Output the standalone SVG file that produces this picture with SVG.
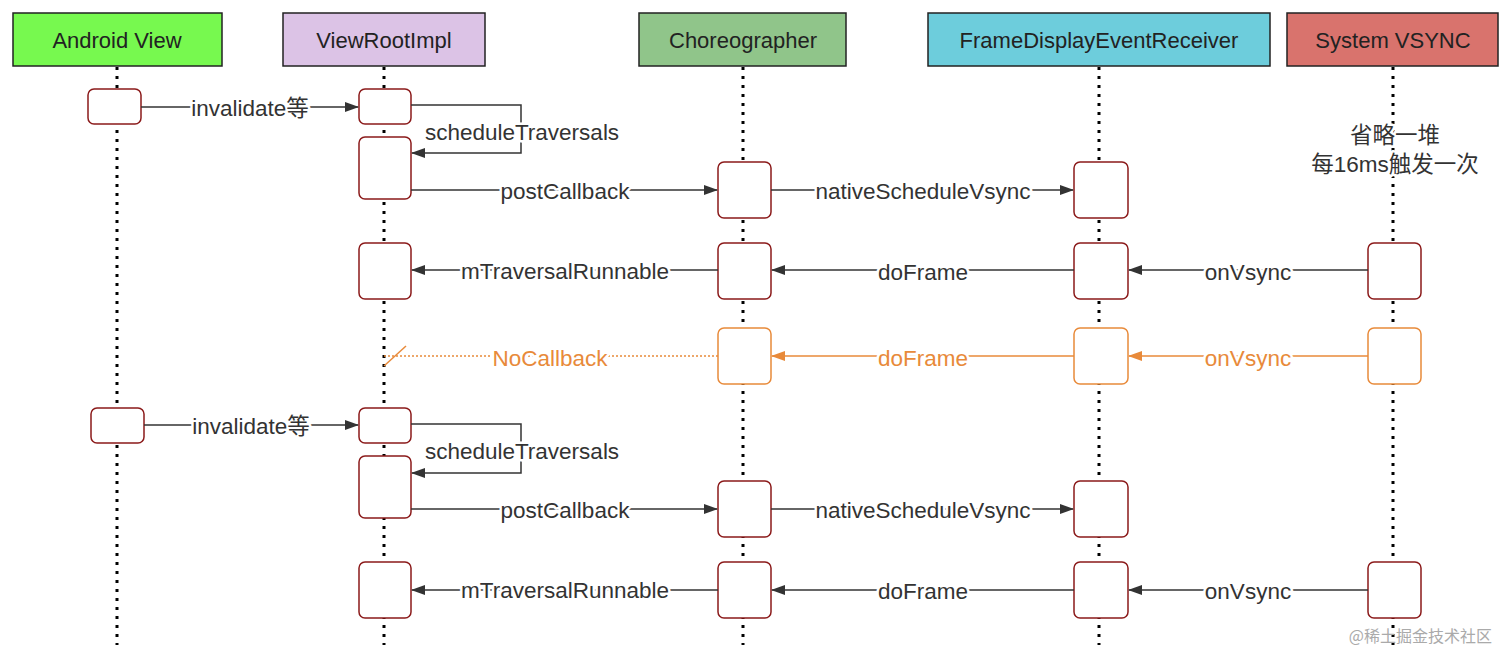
<svg xmlns="http://www.w3.org/2000/svg" width="1512" height="666" viewBox="0 0 1512 666">
<defs>
<marker id="a" markerWidth="14" markerHeight="10" refX="13" refY="5" orient="auto" markerUnits="userSpaceOnUse"><path d="M0,0L14,5L0,10z" fill="#333"/></marker>
<marker id="o" markerWidth="14" markerHeight="10" refX="13" refY="5" orient="auto" markerUnits="userSpaceOnUse"><path d="M0,0L14,5L0,10z" fill="#e88a3a"/></marker>
<style>
.h{stroke:#222;stroke-width:1.5}
.ht{font-family:"Liberation Sans",Arial,sans-serif;font-size:22px;text-anchor:middle;fill:#222}
.life{stroke:#000;stroke-width:3;stroke-dasharray:3 6}
.b{fill:#fff;stroke:#8b1a1a;stroke-width:1.5}
.ob{fill:#fff;stroke:#e88a3a;stroke-width:1.5}
.l{stroke:#333;stroke-width:1.5;fill:none}
.ol{stroke:#e88a3a;stroke-width:1.5;fill:none}
.t,.ot{font-family:"Liberation Sans","Noto Sans CJK SC",sans-serif;font-size:22.5px;text-anchor:middle;stroke:#fff;stroke-width:5;paint-order:stroke;stroke-linejoin:round}
.t{fill:#333}
.ot{fill:#e88a3a}
</style>
</defs>
<rect width="1512" height="666" fill="#fff"/>
<g id="lifelines">
<line class="life" x1="117" y1="67" x2="117" y2="645"/>
<line class="life" x1="384" y1="67" x2="384" y2="645"/>
<line class="life" x1="743" y1="67" x2="743" y2="645"/>
<line class="life" x1="1099" y1="67" x2="1099" y2="645"/>
<line class="life" x1="1393" y1="67" x2="1393" y2="645"/>
</g>
<g id="android"><rect class="h" x="13" y="13" width="209" height="53" fill="#77f94f"/><text class="ht" x="117" y="48">Android View</text></g>
<g id="viewroot"><rect class="h" x="283" y="13" width="202" height="53" fill="#dcc3e6"/><text class="ht" x="384" y="48">ViewRootImpl</text></g>
<g id="choreo"><rect class="h" x="639" y="13" width="207" height="53" fill="#90c58a"/><text class="ht" x="743" y="48">Choreographer</text></g>
<g id="fder"><rect class="h" x="928" y="13" width="342" height="53" fill="#6dcddc"/><text class="ht" x="1099" y="48">FrameDisplayEventReceiver</text></g>
<g id="vsync"><rect class="h" x="1287" y="13" width="211" height="53" fill="#d9736d"/><text class="ht" x="1393" y="48">System VSYNC</text></g>
<g id="activations">
<rect class="b" x="88" y="89" width="53" height="35" rx="6"/>
<rect class="b" x="359" y="89" width="52" height="35" rx="6"/>
<rect class="b" x="359" y="137" width="52" height="62" rx="6"/>
<rect class="b" x="718" y="162" width="53" height="56" rx="6"/>
<rect class="b" x="1074" y="162" width="54" height="56" rx="6"/>
<rect class="b" x="359" y="243" width="52" height="56" rx="6"/>
<rect class="b" x="718" y="243" width="53" height="56" rx="6"/>
<rect class="b" x="1074" y="243" width="54" height="56" rx="6"/>
<rect class="b" x="1368" y="243" width="53" height="56" rx="6"/>
<rect class="ob" x="718" y="328" width="53" height="56" rx="6"/>
<rect class="ob" x="1074" y="328" width="54" height="56" rx="6"/>
<rect class="ob" x="1368" y="328" width="53" height="56" rx="6"/>
<rect class="b" x="91" y="408" width="53" height="35" rx="6"/>
<rect class="b" x="359" y="408" width="52" height="35" rx="6"/>
<rect class="b" x="359" y="456" width="52" height="62" rx="6"/>
<rect class="b" x="718" y="481" width="53" height="56" rx="6"/>
<rect class="b" x="1074" y="481" width="54" height="56" rx="6"/>
<rect class="b" x="359" y="562" width="52" height="56" rx="6"/>
<rect class="b" x="718" y="562" width="53" height="56" rx="6"/>
<rect class="b" x="1074" y="562" width="54" height="56" rx="6"/>
<rect class="b" x="1368" y="562" width="53" height="56" rx="6"/>
</g>
<g id="connectors">
<line class="l" x1="141" y1="107" x2="358" y2="107" marker-end="url(#a)"/>
<path class="l" d="M411,105H521V153H412" marker-end="url(#a)"/>
<line class="l" x1="411" y1="190" x2="717" y2="190" marker-end="url(#a)"/>
<line class="l" x1="771" y1="190" x2="1073" y2="190" marker-end="url(#a)"/>
<line class="l" x1="718" y1="270" x2="412" y2="270" marker-end="url(#a)"/>
<line class="l" x1="1074" y1="270" x2="772" y2="270" marker-end="url(#a)"/>
<line class="l" x1="1368" y1="270" x2="1129" y2="270" marker-end="url(#a)"/>
<line class="ol" x1="718" y1="356" x2="384" y2="356" stroke-dasharray="2 2"/>
<line class="ol" x1="384" y1="366" x2="406" y2="346"/>
<line class="ol" x1="1074" y1="356" x2="772" y2="356" marker-end="url(#o)"/>
<line class="ol" x1="1368" y1="356" x2="1129" y2="356" marker-end="url(#o)"/>
<line class="l" x1="144" y1="425" x2="358" y2="425" marker-end="url(#a)"/>
<path class="l" d="M411,424H521V473H412" marker-end="url(#a)"/>
<line class="l" x1="411" y1="509" x2="717" y2="509" marker-end="url(#a)"/>
<line class="l" x1="771" y1="509" x2="1073" y2="509" marker-end="url(#a)"/>
<line class="l" x1="718" y1="590" x2="412" y2="590" marker-end="url(#a)"/>
<line class="l" x1="1074" y1="590" x2="772" y2="590" marker-end="url(#a)"/>
<line class="l" x1="1368" y1="590" x2="1129" y2="590" marker-end="url(#a)"/>
</g>
<g id="labels">
<text class="t" x="250" y="116">invalidate等</text>
<text class="t" x="522" y="140">scheduleTraversals</text>
<text class="t" x="565" y="199">postCallback</text>
<text class="t" x="923" y="199">nativeScheduleVsync</text>
<text class="t" x="565" y="279">mTraversalRunnable</text>
<text class="t" x="923" y="280">doFrame</text>
<text class="t" x="1248" y="280">onVsync</text>
<text class="ot" x="550" y="366">NoCallback</text>
<text class="ot" x="923" y="366">doFrame</text>
<text class="ot" x="1248" y="366">onVsync</text>
<text class="t" x="251" y="434">invalidate等</text>
<text class="t" x="522" y="459">scheduleTraversals</text>
<text class="t" x="565" y="518">postCallback</text>
<text class="t" x="923" y="518">nativeScheduleVsync</text>
<text class="t" x="565" y="598">mTraversalRunnable</text>
<text class="t" x="923" y="599">doFrame</text>
<text class="t" x="1248" y="599">onVsync</text>
<text class="t" x="1395" y="143">省略一堆</text>
<text class="t" x="1395" y="172">每16ms触发一次</text>
<text x="1492" y="642" font-family="'Noto Sans CJK SC',sans-serif" font-size="16" fill="#aaa" text-anchor="end">@稀土掘金技术社区</text>
</g>
</svg>
